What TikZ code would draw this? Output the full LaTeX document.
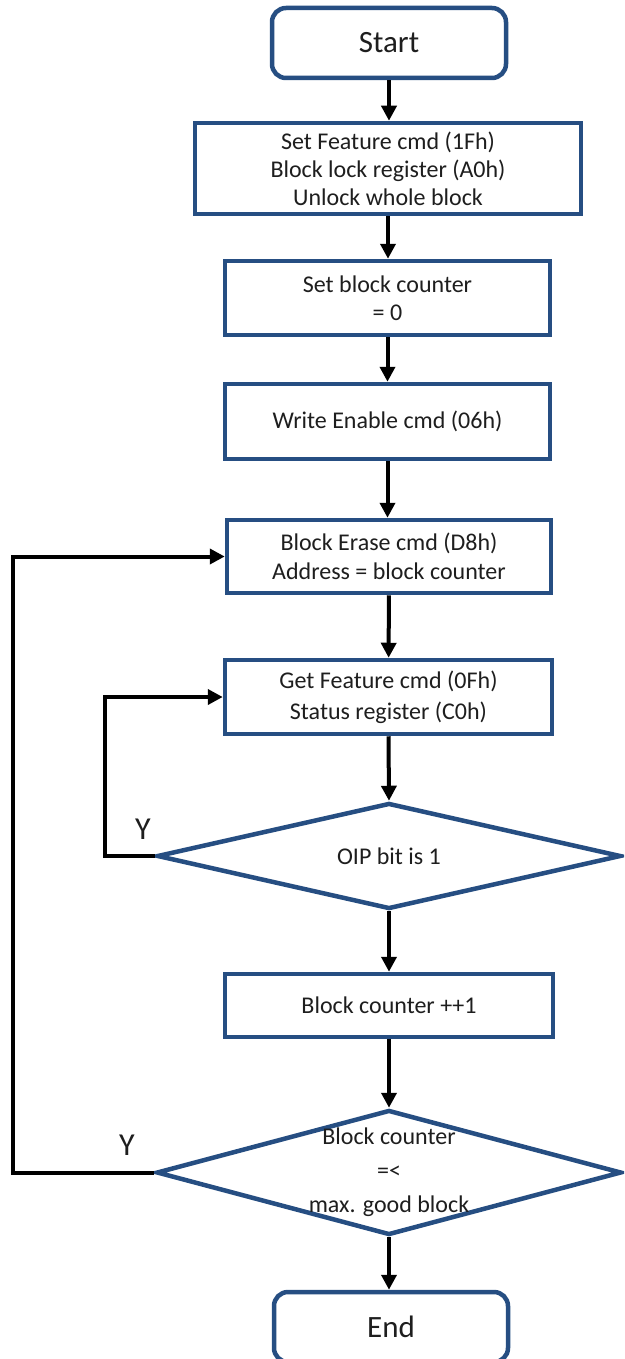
\documentclass[tikz,border=0pt]{standalone}
\usepackage{fontspec}
\setmainfont{Carlito}
\usetikzlibrary{shapes.geometric,arrows.meta}
\definecolor{boxblue}{RGB}{38,78,130}
\definecolor{inkgray}{RGB}{30,30,30}

\begin{document}
\begin{tikzpicture}[x=1pt,y=-1pt,
  box/.style={draw=boxblue, line width=4.5pt, fill=white, align=center, inner sep=0pt,
              text=inkgray, font=\fontsize{24}{28}\selectfont},
  term/.style={box, rounded corners=14pt, font=\fontsize{31}{34}\selectfont},
  decision/.style={draw=boxblue, line width=4.5pt, diamond, inner sep=0pt, fill=white},
  flow/.style={line width=4pt, -{Triangle[length=15pt,width=15pt]}},
  ylabel/.style={font=\fontsize{32}{34}\selectfont, inner sep=0pt, text=inkgray},
  dtext/.style={font=\fontsize{24}{34}\selectfont, align=center, text=inkgray}
]
\useasboundingbox (0,0) rectangle (624,1359);
\clip (0,0) rectangle (624,1359);

% process steps
\node[term, minimum width=234, minimum height=70] (start) at (389,43) {Start};
\node[box, minimum width=386, minimum height=91] (feat) at (388,168.5)
  {Set Feature cmd (1Fh)\\Block lock register (A0h)\\Unlock whole block};
\node[box, minimum width=325, minimum height=74] (cnt) at (387.5,298)
  {Set block counter\\= 0};
\node[box, minimum width=325, minimum height=75] (wren) at (387.5,421.5)
  {Write Enable cmd (06h)};
\node[box, minimum width=324, minimum height=73] (erase) at (389,556.5)
  {Block Erase cmd (D8h)\\[1pt]Address = block counter};
\node[box, minimum width=327, minimum height=74] (getf) at (388.5,697)
  {Get Feature cmd (0Fh)\\[3pt]Status register (C0h)};
\node[decision, minimum width=464, minimum height=106,
      label={[dtext]center:OIP bit is 1}] (oip) at (389,856) {};
\node[box, minimum width=328, minimum height=63] (inc) at (389,1005.5)
  {Block counter ++1};
\node[decision, minimum width=465, minimum height=125,
      label={[dtext]center:Block counter\\=<\\max. good block}] (cmp) at (389,1172.5) {};
\node[term, minimum width=234, minimum height=70] (end) at (391,1327) {End};

% branch labels
\node[ylabel] (y1) at (143,829) {Y};
\node[ylabel] (y2) at (127,1145) {Y};

% main flow
\draw[flow] (start.south) -- (start.south |- feat.north);
\draw[flow] (feat.south) -- (feat.south |- cnt.north);
\draw[flow] (cnt.south) -- (cnt.south |- wren.north);
\draw[flow] (wren.south) -- (wren.south |- erase.north);
\draw[flow] (erase) -- (getf);
\draw[flow] (getf.south) -- (oip.north);
\draw[flow] (oip.south) -- (inc.north);
\draw[flow] (inc.south) -- (cmp.north);
\draw[flow] (cmp.south) -- (cmp.south |- end.north);

% loops back
\draw[flow] (oip.west) -- ++(-50,0) |- (getf.west);
\draw[flow] (cmp.west) -- ++(-141,0) |- (erase.west);
\end{tikzpicture}
\end{document}
